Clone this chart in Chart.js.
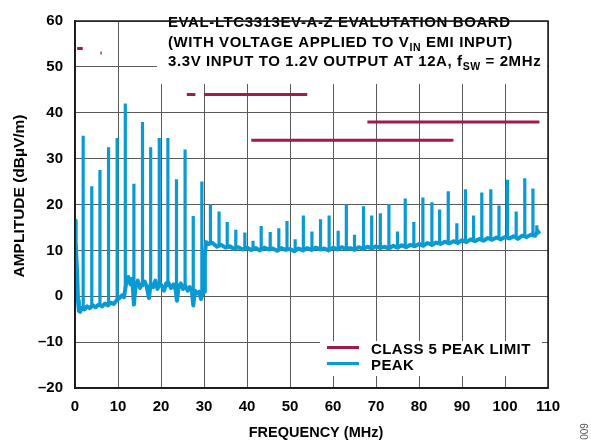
<!DOCTYPE html>
<html>
<head>
<meta charset="utf-8">
<title>EMI radiated peak</title>
<script src="https://cdn.jsdelivr.net/npm/chart.js@4.4.1/dist/chart.umd.min.js"></script>
<style>
  html, body { margin: 0; padding: 0; background: #fff; }
  #wrap { width: 591px; height: 446px; }
</style>
</head>
<body>
<div id="wrap"><canvas id="emi" width="591" height="446"></canvas></div>
<script>
/* Radiated EMI plot, LTC3313 eval board. */

// CLASS 5 peak limit segments (MHz, dBuV/m)
var LIMIT_START = [0.5, 5.9, 26, 30, 41, 68];
var LIMIT_END = [1.8, 6.2, 28, 54, 88, 108];
var LIMIT_LEVEL = [54, 53, 44, 44, 34, 38];

// broadband floor of the peak trace
var FLOOR_F = [0, 0.15, 0.3, 0.5, 0.7, 0.9, 1.2, 1.5, 2.2, 2.8, 3.4, 4.2, 4.8, 5.5, 6.3, 7.0, 7.6, 8.3, 9.0, 9.6,
  10.3, 10.9, 11.4, 11.9, 12.4, 12.9, 13.3, 13.7, 14.1, 14.6, 15.1, 15.6, 16.2, 16.7, 17.2, 17.6, 18.2, 18.7, 19.2, 19.7,
  20.2, 20.7, 21.2, 21.7, 22.3, 22.9, 23.4, 23.7, 24.1, 24.6, 25.1, 25.6, 26.2, 26.7, 27.2, 27.5, 27.9, 28.4, 28.9, 29.3, 29.7, 30.0,
  30.2, 30.5, 31, 32, 33, 34, 35, 36, 37, 38, 39, 40, 41, 42, 43, 44, 45, 46, 47, 48, 49, 50,
  51, 52, 53, 54, 55, 56, 57, 58, 59, 60, 61, 62, 63, 64, 65, 66, 67, 68, 69, 70,
  71, 72, 73, 74, 75, 76, 77, 78, 79, 80, 81, 82, 83, 84, 85, 86, 87, 88, 89, 90,
  91, 92, 93, 94, 95, 96, 97, 98, 99, 100, 101, 102, 103, 104, 105, 106, 107, 107.6, 108];
var FLOOR_A = [16.5, 12, 9, 5, -1, -3.2, -3.4, -2.6, -2.9, -2.2, -2.6, -2.0, -2.4, -1.8, -2.2, -1.6, -2.0, -1.4, -1.7, -1.0,
  -0.4, 0.2, -0.2, 2.8, 4.2, 2.6, 3.8, -1.8, 2.4, 3.4, 1.8, 2.6, 3.2, 2.0, -0.4, 2.8, 2.0, 3.4, 1.6, 3.0,
  2.2, 1.2, 2.8, 3.0, 1.8, 2.6, 1.4, -1.0, 2.0, 2.8, 1.6, 2.4, 1.2, 2.0, 1.0, -2.0, 1.2, 0.6, 1.0, -0.6, 0.8, 1.0,
  9, 11.8, 11.4, 11.6, 10.8, 11.2, 10.6, 10.9, 10.3, 10.7, 10.2, 10.6, 10.1, 10.5, 10.0, 10.6, 10.2, 10.4, 9.9, 10.5, 10.1, 10.3,
  9.8, 10.4, 10.0, 10.5, 10.1, 10.6, 10.2, 10.4, 10.0, 10.6, 10.2, 10.7, 10.3, 10.5, 10.1, 10.7, 10.3, 10.8, 10.4, 10.9,
  10.5, 10.8, 10.4, 11.0, 10.6, 11.1, 10.7, 11.2, 10.9, 11.4, 11.0, 11.6, 11.2, 11.7, 11.4, 11.9, 11.5, 12.0, 11.6, 12.2,
  11.8, 12.4, 12.0, 12.5, 12.1, 12.7, 12.3, 12.8, 12.4, 12.9, 12.6, 13.1, 12.5, 13.2, 12.9, 13.4, 13.2, 14.2, 13.6];

// switching harmonics (spikes) of the peak trace
var SPIKE_F = [1.9, 3.9, 5.8, 7.8, 9.8, 11.7, 13.7, 15.7, 17.6, 19.6, 21.6, 23.6, 25.6, 27.5, 29.5,
  31.5, 33.5, 35.4, 37.4, 39.5, 41.4, 43.3, 45.4, 47.4, 49.3, 51.2, 53.1, 55.1, 57.1, 59.1,
  61.2, 63.1, 65, 67.1, 69, 71, 73, 75, 76.8, 78.8, 80.9, 83, 84.8, 86.8, 88.8, 90.8,
  92.7, 94.6, 96.7, 98.6, 100.6, 102.6, 104.6, 106.5, 107.4];
var SPIKE_PEAK = [35, 24, 27.5, 32.5, 34.5, 42, 24.5, 38, 32.5, 34.5, 34.5, 25.5, 32, 17.5, 25,
  20, 18.5, 16.2, 14.5, 13.9, 12.1, 15.3, 14, 14.8, 16.4, 12.4, 17.6, 14.1, 16.8, 17.6,
  14.3, 20, 13.4, 19.6, 17.6, 18.1, 20.1, 14.1, 21.3, 16.2, 21.5, 20.5, 18.9, 22.9, 15.9, 23.3,
  17.6, 22.6, 23.3, 19.8, 25.4, 18.5, 25.7, 23.5, 15.5];
var SPIKE_BASE = [-2.8, -2.2, -2.0, -1.8, -1.0, 1.5, 1.5, 2.0, 2.0, 2.0, 2.0, 1.5, 1.5, 1.0, 0.5,
  11.5, 11.0, 10.7, 10.5, 10.4, 10.3, 10.2, 10.3, 10.2, 10.2, 10.1, 10.2, 10.3, 10.3, 10.3,
  10.4, 10.5, 10.4, 10.5, 10.6, 10.7, 10.6, 10.8, 10.9, 11.0, 11.2, 11.4, 11.6, 11.7, 11.8, 12.0,
  12.2, 12.3, 12.5, 12.6, 12.8, 12.9, 13.1, 13.3, 13.5];

var X_TICKS = [0, 10, 20, 30, 40, 50, 60, 70, 80, 90, 100, 110];
var Y_TICKS = [-20, -10, 0, 10, 20, 30, 40, 50, 60];

var RED = "#A11A4A", BLUE = "#0A9AD3", GRID = "#5a5a5a";
var FONT = "'Liberation Sans', Arial, Helvetica, sans-serif";

/* ---------- build point lists ---------- */
var limitPts = [];
LIMIT_START.forEach(function (s, i) {
  limitPts.push({ x: s, y: LIMIT_LEVEL[i] }, { x: LIMIT_END[i], y: LIMIT_LEVEL[i] }, { x: LIMIT_END[i], y: null });
});
var floorPts = FLOOR_F.map(function (f, i) { return { x: f, y: FLOOR_A[i] }; });
var spikePts = [];
SPIKE_F.forEach(function (f, i) {
  spikePts.push({ x: f, y: SPIKE_BASE[i] }, { x: f, y: SPIKE_PEAK[i] }, { x: f, y: null });
});

/* ---------- boxes, text and frame drawn on the canvas ---------- */
// one title line made of normal and subscript runs
function drawRuns(ctx, x, y, runs) {
  ctx.letterSpacing = "0.6px";
  runs.forEach(function (r) {
    ctx.font = "bold " + (r.sub ? 10.5 : 15) + "px " + FONT;
    ctx.fillText(r.t, x, y + (r.sub ? 4 : 0));
    x += ctx.measureText(r.t).width;
  });
  ctx.letterSpacing = "0px";
}

var decor = {
  id: "decor",
  beforeDatasetsDraw: function (chart) {
    var ctx = chart.ctx, a = chart.chartArea;
    ctx.save();
    ctx.fillStyle = "#fff";
    ctx.fillRect(157, a.top + 1, a.right - 157 - 1, 62);   // title block
    ctx.restore();
  },
  afterDraw: function (chart) {
    var ctx = chart.ctx, a = chart.chartArea;
    ctx.save();
    // legend block
    ctx.fillStyle = "#fff";
    ctx.fillRect(320, 341, 222, 35);
    ctx.lineWidth = 3;
    ctx.strokeStyle = RED;
    ctx.beginPath(); ctx.moveTo(327, 347.5); ctx.lineTo(359, 347.5); ctx.stroke();
    ctx.strokeStyle = BLUE;
    ctx.beginPath(); ctx.moveTo(327, 363.5); ctx.lineTo(359, 363.5); ctx.stroke();
    ctx.fillStyle = "#000";
    ctx.textBaseline = "alphabetic";
    ctx.textAlign = "left";
    ctx.font = "bold 15px " + FONT;
    ctx.letterSpacing = "0.4px";
    ctx.fillText("CLASS 5 PEAK LIMIT", 371, 353.5);
    ctx.fillText("PEAK", 371, 369.5);
    ctx.letterSpacing = "0px";

    // title lines
    drawRuns(ctx, 168, 27.3, [{ t: "EVAL-LTC3313EV-A-Z EVALUTATION BOARD" }]);
    drawRuns(ctx, 168, 47.3, [{ t: "(WITH VOLTAGE APPLIED TO V" }, { t: "IN", sub: true }, { t: " EMI INPUT)" }]);
    drawRuns(ctx, 168, 66.3, [{ t: "3.3V INPUT TO 1.2V OUTPUT AT 12A, f" }, { t: "SW", sub: true }, { t: " = 2MHz" }]);

    // frame
    ctx.strokeStyle = "#1a1a1a";
    ctx.lineWidth = 1.5;
    ctx.strokeRect(a.left, a.top, a.right - a.left, a.bottom - a.top);

    // axis titles
    ctx.font = "bold 14.5px " + FONT;
    ctx.textAlign = "center";
    ctx.textBaseline = "middle";
    ctx.fillText("FREQUENCY (MHz)", 316, 433);
    ctx.save();
    ctx.translate(19.5, 196);
    ctx.rotate(-Math.PI / 2);
    ctx.font = "bold 15.5px " + FONT;
    ctx.fillText("AMPLITUDE (dB\u00B5V/m)", 0, 0);
    ctx.restore();

    // figure number
    ctx.save();
    ctx.translate(585.5, 431.5);
    ctx.rotate(-Math.PI / 2);
    ctx.fillStyle = "#555";
    ctx.font = "10px " + FONT;
    ctx.fillText("009", 0, 0);
    ctx.restore();
    ctx.restore();
  }
};

new Chart(document.getElementById("emi"), {
  type: "line",
  data: {
    datasets: [
      { label: "CLASS 5 PEAK LIMIT", data: limitPts, borderColor: RED, borderWidth: 3, pointRadius: 0, spanGaps: false },
      { label: "PEAK", data: floorPts, borderColor: BLUE, borderWidth: 4, pointRadius: 0, borderJoinStyle: "round" },
      { label: "PEAK harmonics", data: spikePts, borderColor: BLUE, borderWidth: 3.2, pointRadius: 0, spanGaps: false }
    ]
  },
  options: {
    responsive: false,
    animation: false,
    devicePixelRatio: 1,
    layout: { padding: { left: 0, right: 43, top: 10, bottom: 0 } },
    plugins: { legend: { display: false }, tooltip: { enabled: false } },
    scales: {
      x: {
        type: "linear", min: 0, max: 110,
        afterBuildTicks: function (s) { s.ticks = X_TICKS.map(function (v) { return { value: v }; }); },
        afterFit: function (s) { s.height = 58; },
        grid: { color: GRID, lineWidth: 1, drawTicks: false },
        border: { display: true, color: "#1a1a1a", width: 1.5 },
        ticks: { color: "#000", padding: 10, maxRotation: 0, font: { family: FONT, size: 15, weight: "bold" } }
      },
      y: {
        type: "linear", min: -20, max: 60,
        afterBuildTicks: function (s) { s.ticks = Y_TICKS.map(function (v) { return { value: v }; }); },
        afterFit: function (s) { s.width = 75; },
        grid: { color: GRID, lineWidth: 1, drawTicks: false },
        border: { display: true, color: "#1a1a1a", width: 1.5 },
        ticks: {
          color: "#000", padding: 12, font: { family: FONT, size: 15, weight: "bold" },
          callback: function (v) { return v < 0 ? "\u2013" + Math.abs(v) : String(v); }
        }
      }
    }
  },
  plugins: [decor]
});
</script>
</body>
</html>
